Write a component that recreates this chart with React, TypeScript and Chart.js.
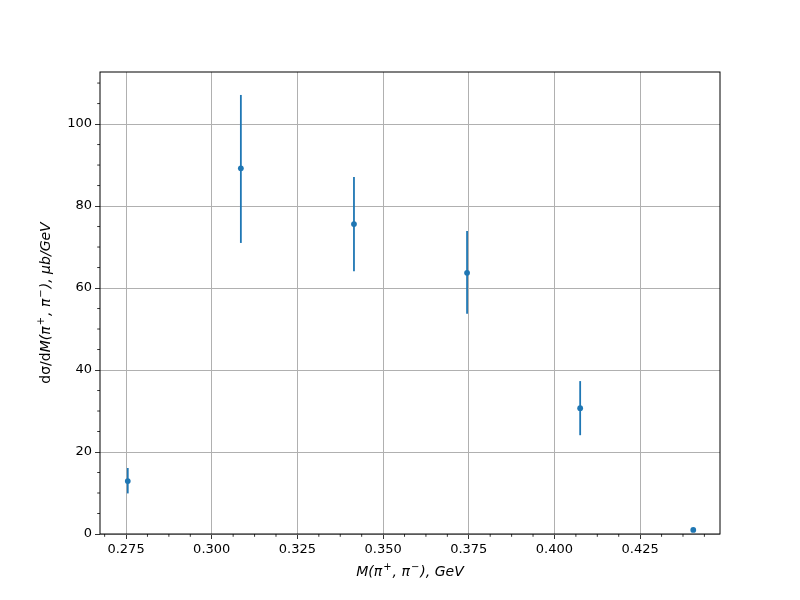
import React, { useEffect, useRef } from "react";
import { Chart, registerables } from "chart.js";

Chart.register(...registerables);

const massBins = [0.2755, 0.3085, 0.3415, 0.3745, 0.4075, 0.4405];
const crossSection = [12.9, 89.2, 75.6, 63.7, 30.7, 1.0];
const errLow = [3.0, 18.2, 11.5, 10.0, 6.6, 0.2];
const errHigh = [3.2, 17.9, 11.5, 10.2, 6.6, 0.2];
const xTickValues = [0.275, 0.3, 0.325, 0.35, 0.375, 0.4, 0.425];
const yTickValues = [0, 20, 40, 60, 80, 100];
const xMinorStep = 0.00625;
const yMinorStep = 5;

const BLUE = "#1f77b4";
const FONT = "'DejaVu Sans', sans-serif";

type Seg = { t: string; it?: boolean; sup?: boolean };
const xTitleSegs: Seg[] = [
  { t: "M(π", it: true },
  { t: "+", sup: true },
  { t: ", π", it: true },
  { t: "−", sup: true },
  { t: "), GeV", it: true },
];
const yTitleSegs: Seg[] = [
  { t: "dσ/d" },
  { t: "M(π", it: true },
  { t: "+", sup: true },
  { t: ", π", it: true },
  { t: "−", sup: true },
  { t: "), μb/GeV", it: true },
];

function segFont(s: Seg) {
  const size = s.sup ? 10 : 14;
  return `${s.it ? "italic " : ""}${size}px ${FONT}`;
}

function drawSegs(ctx: CanvasRenderingContext2D, segs: Seg[], cx: number, cy: number) {
  let total = 0;
  for (const s of segs) {
    ctx.font = segFont(s);
    total += ctx.measureText(s.t).width + (s.sup ? 2 : 0);
  }
  let x = cx - total / 2;
  ctx.textBaseline = "middle";
  ctx.textAlign = "left";
  ctx.fillStyle = "#000";
  for (const s of segs) {
    ctx.font = segFont(s);
    ctx.fillText(s.t, x + (s.sup ? 1 : 0), s.sup ? cy - 5 : cy);
    x += ctx.measureText(s.t).width + (s.sup ? 2 : 0);
  }
}

const extrasPlugin = {
  id: "extras",
  afterDatasetsDraw(chart: any) {
    const ctx = chart.ctx as CanvasRenderingContext2D;
    const xs = chart.scales.x;
    const ys = chart.scales.y;
    const area = chart.chartArea;
    ctx.save();
    // error bars
    ctx.strokeStyle = BLUE;
    ctx.lineWidth = 1.8;
    for (let i = 0; i < massBins.length; i++) {
      const px = xs.getPixelForValue(massBins[i]);
      const y1 = ys.getPixelForValue(crossSection[i] - errLow[i]);
      const y2 = ys.getPixelForValue(crossSection[i] + errHigh[i]);
      ctx.beginPath();
      ctx.moveTo(px, y1);
      ctx.lineTo(px, y2);
      ctx.stroke();
    }
    // markers
    ctx.fillStyle = BLUE;
    for (let i = 0; i < massBins.length; i++) {
      const px = xs.getPixelForValue(massBins[i]);
      const py = ys.getPixelForValue(crossSection[i]);
      ctx.beginPath();
      ctx.arc(px, py, 2.9, 0, Math.PI * 2);
      ctx.fill();
    }
    // frame
    ctx.strokeStyle = "#000";
    ctx.lineWidth = 1;
    ctx.strokeRect(area.left, area.top, area.right - area.left, area.bottom - area.top);
    // minor ticks
    ctx.lineWidth = 0.8;
    ctx.beginPath();
    for (let k = -10; k < 60; k++) {
      const v = xTickValues[0] + k * xMinorStep;
      if (v < xs.min || v > xs.max) continue;
      if (k % 4 === 0) continue;
      const px = xs.getPixelForValue(v);
      ctx.moveTo(px, area.bottom);
      ctx.lineTo(px, area.bottom + 2.8);
    }
    for (let k = 0; k < 60; k++) {
      const v = k * yMinorStep;
      if (v < ys.min || v > ys.max) continue;
      if (k % 4 === 0) continue;
      const py = ys.getPixelForValue(v);
      ctx.moveTo(area.left, py);
      ctx.lineTo(area.left - 2.8, py);
    }
    ctx.stroke();
    // titles
    drawSegs(ctx, xTitleSegs, (area.left + area.right) / 2, 572);
    ctx.translate(46, (area.top + area.bottom) / 2);
    ctx.rotate(-Math.PI / 2);
    drawSegs(ctx, yTitleSegs, 0, 0);
    ctx.restore();
  },
};

export default function App() {
  const ref = useRef<HTMLCanvasElement>(null);
  useEffect(() => {
    document.body.style.margin = "0";
    const chart = new Chart(ref.current!, {
      type: "scatter",
      data: {
        datasets: [
          {
            data: massBins.map((x, i) => ({ x, y: crossSection[i] })),
            pointRadius: 0,
            pointHoverRadius: 0,
            backgroundColor: BLUE,
          },
        ],
      },
      options: {
        responsive: false,
        animation: false,
        events: [],
        layout: { padding: { left: 0, top: 72, right: 80, bottom: 0 } },
        plugins: { legend: { display: false }, tooltip: { enabled: false } },
        scales: {
          x: {
            type: "linear",
            min: 0.2674,
            max: 0.4483,
            afterBuildTicks: (s: any) => {
              s.ticks = xTickValues.map((value) => ({ value }));
            },
            afterFit: (s: any) => {
              s.height = 66;
            },
            grid: { color: "#b0b0b0", lineWidth: 1, tickColor: "#000", tickLength: 5, tickWidth: 0.8 },
            border: { display: false },
            ticks: {
              color: "#000",
              font: { family: FONT, size: 13 },
              padding: 3,
              maxRotation: 0,
              autoSkip: false,
              callback: (v: any) => Number(v).toFixed(3),
            },
          },
          y: {
            type: "linear",
            min: 0,
            max: 112.7,
            afterBuildTicks: (s: any) => {
              s.ticks = yTickValues.map((value) => ({ value }));
            },
            afterFit: (s: any) => {
              s.width = 100;
            },
            grid: { color: "#b0b0b0", lineWidth: 1, tickColor: "#000", tickLength: 5, tickWidth: 0.8 },
            border: { display: false },
            ticks: {
              color: "#000",
              font: { family: FONT, size: 13 },
              padding: 3,
              autoSkip: false,
              callback: (v: any) => String(v),
            },
          },
        },
      },
      plugins: [extrasPlugin],
    });
    return () => chart.destroy();
  }, []);
  return <canvas ref={ref} width={800} height={600} style={{ display: "block" }} />;
}
